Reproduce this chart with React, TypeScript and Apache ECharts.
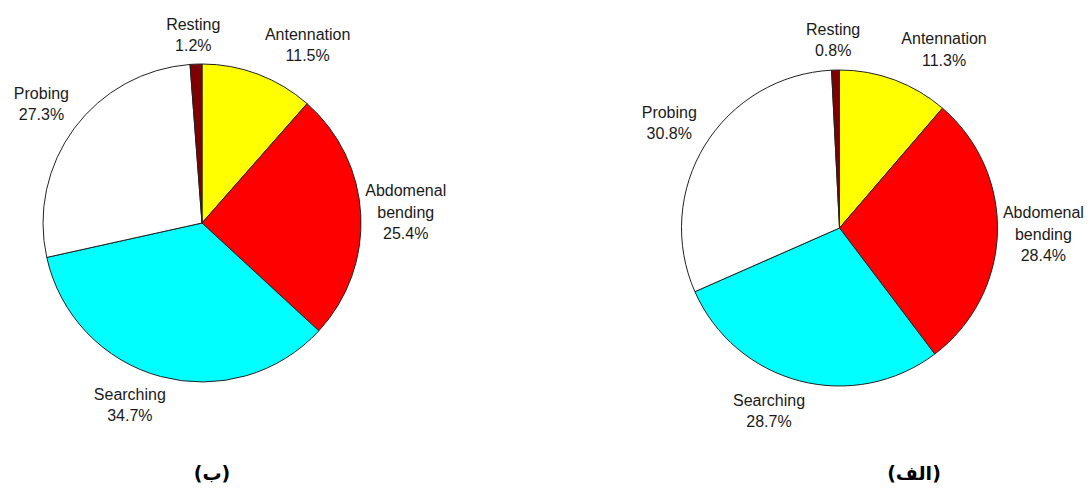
import React, { useEffect, useRef } from "react";
import * as echarts from "echarts";

const categories = ["Antennation", "Abdomenal\nbending", "Searching", "Probing", "Resting"];
const colors = ["#ffff00", "#ff0000", "#00ffff", "#ffffff", "#800000"];
const leftValues = [11.5, 25.4, 34.7, 27.3, 1.2];
const rightValues = [11.3, 28.4, 28.7, 30.8, 0.8];
const panelTitles = ["(ب)", "(الف)"];

// label placement (radial distance in px, angular nudge in degrees), by category
const labelDist = [207, 204, 196, 200, 188];
const labelNudge = [10, 0, 6.5, 0, -0.5];

const pies = [
  { cx: 202, cy: 223, r: 159, values: leftValues },
  { cx: 839.5, cy: 228, r: 158, values: rightValues },
];

export default function App() {
  const ref = useRef<HTMLDivElement>(null);
  useEffect(() => {
    if (!ref.current) return;
    const chart = echarts.init(ref.current, undefined, { renderer: "svg" });
    const series = pies.map((p) => {
      const total = p.values.reduce((a, b) => a + b, 0);
      const mids: number[] = [];
      let acc = 0;
      p.values.forEach((v) => {
        mids.push(((acc + v / 2) / total) * 360);
        acc += v;
      });
      return {
        type: "pie",
        center: [p.cx, p.cy],
        radius: [0, p.r],
        startAngle: 90,
        clockwise: true,
        avoidLabelOverlap: false,
        silent: true,
        itemStyle: { borderColor: "#222", borderWidth: 1 },
        label: {
          show: true,
          position: "outside",
          formatter: (d: any) => `${d.name}\n${d.value.toFixed(1)}%`,
          fontFamily: "Liberation Sans, Arial, sans-serif",
          fontSize: 16,
          lineHeight: 21.5,
          color: "#1a1a1a",
          align: "center",
        },
        labelLine: { show: false },
        labelLayout: (params: any) => {
          const i = params.dataIndex;
          const a = ((mids[i] + labelNudge[i]) * Math.PI) / 180;
          return {
            x: p.cx + labelDist[i] * Math.sin(a),
            y: p.cy - labelDist[i] * Math.cos(a),
            align: "center",
            verticalAlign: "middle",
          };
        },
        data: p.values.map((v, i) => ({
          name: categories[i],
          value: v,
          itemStyle: { color: colors[i] },
        })),
      };
    });
    const titleStyle = {
      fontFamily: "DejaVu Sans, sans-serif",
      fontSize: 19,
      fontWeight: "bold",
      color: "#000",
    };
    chart.setOption({
      animation: false,
      backgroundColor: "#ffffff",
      title: [
        { text: panelTitles[0], left: 207, top: 458, textAlign: "center", textStyle: titleStyle },
        { text: panelTitles[1], left: 909, top: 458, textAlign: "center", textStyle: titleStyle },
      ],
      series,
    });
    return () => chart.dispose();
  }, []);
  return (
    <div
      ref={ref}
      style={{ position: "absolute", left: 0, top: 0, width: 1092, height: 489 }}
    />
  );
}
